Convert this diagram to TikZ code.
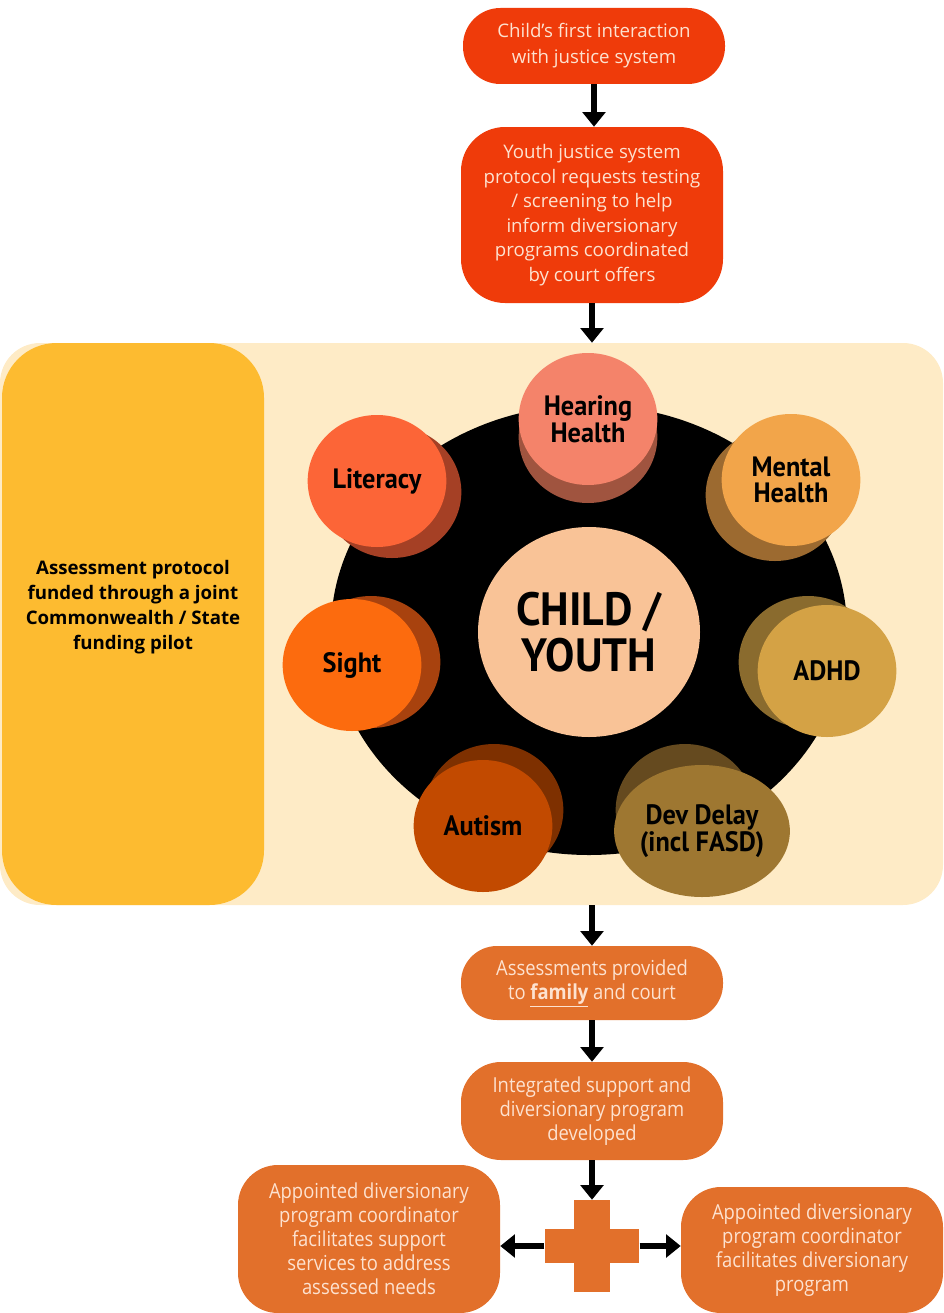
\documentclass[tikz,border=0pt]{standalone}
\usepackage{fontspec}
\setmainfont{Open Sans}
\newfontfamily\narrowfont{Open Sans}[FakeStretch=0.89]
\newfontfamily\bubblefont{PT Sans}[FakeStretch=0.94]
\usetikzlibrary{arrows.meta,shapes.geometric}
\definecolor{boxred}{RGB}{239,59,10}
\definecolor{boxorange}{RGB}{226,112,43}
\definecolor{boxtext}{RGB}{253,226,208}
\definecolor{panelcream}{RGB}{254,235,198}
\definecolor{panelyellow}{RGB}{253,187,48}
\definecolor{childfill}{RGB}{249,195,151}
\definecolor{hearfront}{RGB}{244,131,106}
\definecolor{hearback}{RGB}{160,84,63}
\definecolor{mentalfront}{RGB}{242,165,74}
\definecolor{mentalback}{RGB}{156,106,48}
\definecolor{adhdfront}{RGB}{212,162,69}
\definecolor{adhdback}{RGB}{138,107,46}
\definecolor{devfront}{RGB}{158,119,49}
\definecolor{devback}{RGB}{101,74,31}
\definecolor{autfront}{RGB}{194,74,0}
\definecolor{autback}{RGB}{126,48,0}
\definecolor{sightfront}{RGB}{252,107,14}
\definecolor{sightback}{RGB}{168,66,14}
\definecolor{litfront}{RGB}{252,101,55}
\definecolor{litback}{RGB}{165,64,37}
\tikzset{
  flow/.style={line width=4.3pt,-{Triangle[width=17pt,length=11pt]}},
  stepbox/.style={text=boxtext,align=center,inner sep=0pt,minimum width=196.5pt},
  bubble/.style={ellipse,inner sep=0pt,minimum width=104pt,minimum height=99pt},
  bubbletext/.style={align=center,font=\bubblefont\bfseries\fontsize{21}{20}\selectfont}
}
\begin{document}
\begin{tikzpicture}[x=0.75pt,y=-0.75pt]
\useasboundingbox (0,0) rectangle (943,1313);
% flow boxes at the top
\node[stepbox,fill=boxred,rounded corners=28pt,minimum height=57pt,
  font=\fontsize{14}{19.5}\selectfont] (first) at (594,46)
  {Child’s first interaction\\with justice system};
\node[stepbox,fill=boxred,rounded corners=33pt,minimum height=132pt,
  font=\fontsize{14}{18.4}\selectfont] (screen) at (592,215)
  {Youth justice system\\protocol requests testing\\/ screening to help\\inform diversionary\\programs coordinated\\by court offers};
% assessment panel
\node[fill=panelcream,rounded corners=30pt,inner sep=0pt,
  minimum width=707.25pt,minimum height=421.5pt] (panel) at (471.5,624) {};
\node[fill=panelyellow,rounded corners=41pt,inner sep=0pt,
  minimum width=196.5pt,minimum height=421.5pt] (funding) at (133,624) {};
\node[align=center,font=\bfseries\fontsize{14}{18.75}\selectfont] (fundlabel) at (133,607)
  {Assessment protocol\\funded through a joint\\Commonwealth / State\\funding pilot};
\node[ellipse,fill=black,inner sep=0pt,minimum width=387pt,minimum height=337.5pt] (ring) at (589,630) {};
\node[ellipse,fill=childfill,inner sep=0pt,minimum width=166.5pt,minimum height=157.5pt,
  align=center,font=\bubblefont\bfseries\fontsize{35}{34}\selectfont] (child) at (589,632)
  {CHILD /\\YOUTH};
% assessment bubbles
\node[bubble,fill=hearback] (hearingback) at (588,437) {};
\node[bubble,fill=hearfront,bubbletext] (hearing) at (588,419) {Hearing\\Health};
\node[bubble,fill=mentalback] (mentalback) at (775,495) {};
\node[bubble,fill=mentalfront,bubbletext] (mental) at (791,480) {Mental\\Health};
\node[bubble,fill=adhdback] (adhdback) at (808,662) {};
\node[bubble,fill=adhdfront,bubbletext] (adhd) at (827,671) {ADHD};
\node[bubble,fill=devback] (devback) at (685,810) {};
\node[bubble,fill=devfront,bubbletext] (dev) at (702,831) {Dev Delay\\(incl FASD)};
\node[bubble,fill=autback] (autismback) at (494,810) {};
\node[bubble,fill=autfront,bubbletext] (autism) at (483,826) {Autism};
\node[bubble,fill=sightback] (sightback) at (371,662) {};
\node[bubble,fill=sightfront,bubbletext] (sight) at (352,665) {Sight};
\node[bubble,fill=litback] (literacyback) at (392,492) {};
\node[bubble,fill=litfront,bubbletext] (literacy) at (377,481) {Literacy};
% flow boxes at the bottom
\node[stepbox,fill=boxorange,rounded corners=27pt,minimum height=55.5pt,
  font=\narrowfont\fontsize{15.5}{18}\selectfont] (assess) at (592,983)
  {Assessments provided\\to \underline{\textbf{family}} and court};
\node[stepbox,fill=boxorange,rounded corners=30pt,minimum height=73.5pt,
  font=\narrowfont\fontsize{15.5}{18}\selectfont] (plan) at (592,1111)
  {Integrated support and\\diversionary program\\developed};
\node[fill=boxorange,inner sep=0pt,minimum width=27pt,minimum height=69pt] (plusv) at (592,1246) {};
\node[fill=boxorange,inner sep=0pt,minimum width=71pt,minimum height=26pt] (plush) at (592,1246) {};
\node[stepbox,fill=boxorange,rounded corners=30pt,minimum height=111pt,
  font=\narrowfont\fontsize{15.5}{18}\selectfont] (support) at (369,1239)
  {Appointed diversionary\\program coordinator\\facilitates support\\services to address\\assessed needs};
\node[stepbox,fill=boxorange,rounded corners=30pt,minimum height=94.5pt,
  font=\narrowfont\fontsize{15.5}{18}\selectfont] (program) at (812,1250)
  {Appointed diversionary\\program coordinator\\facilitates diversionary\\program};
% arrows
\draw[flow] (first.south) -- (first.south |- screen.north);
\draw[flow] (screen.south) -- (screen.south |- panel.north);
\draw[flow] (assess.north |- panel.south) -- (assess.north);
\draw[flow] (assess.south) -- (plan.north);
\draw[flow] (plan.south) -- (plusv.north);
\draw[flow] (plush.west) -- (support.east |- plush.west);
\draw[flow] (plush.east) -- (program.west |- plush.east);
\end{tikzpicture}
\end{document}
